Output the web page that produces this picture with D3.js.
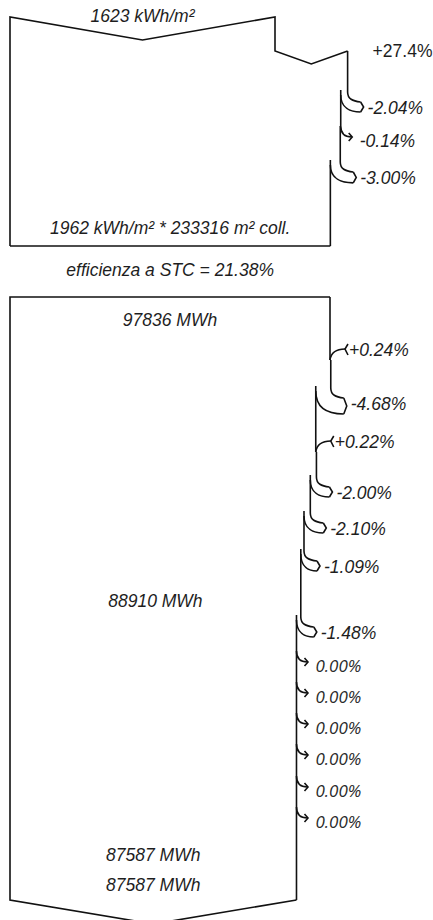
<!DOCTYPE html>
<html><head><meta charset="utf-8">
<script src="https://cdn.jsdelivr.net/npm/d3@7"></script>
<style>
html,body{margin:0;padding:0;background:#fff;}
svg{display:block;}
text{font-family:"Liberation Sans",Arial,sans-serif;font-size:17.5px;fill:#1e1e1e;}
.it{font-style:italic;}
.zero{font-family:"Open Sans","Liberation Sans",sans-serif;font-style:italic;fill:#2a2a2a;font-size:17px;}
</style></head><body>
<svg id="chart" width="433" height="920"></svg>
<script>
// Irradiation stage (kWh/m²)
const irrStart = 1623;
const irrSteps = [27.4, -2.04, -0.14, -3.00];
const irrEffective = 1962;
const collectorArea = 233316;
const stcEfficiency = 21.38;

// Energy stage (MWh)
const energyStart = 97836;
const energySteps = [0.24, -4.68, 0.22, -2.00, -2.10, -1.09, -1.48, 0.00, 0.00, 0.00, 0.00, 0.00, 0.00];
const energyMpp = 88910;
const energyInverter = 87587;
const energyGrid = 87587;

// Vertical layout of the step rows (label centre lines)
const irrRowY = [51, 108, 141, 178];
const energyRowY = [350, 404, 442, 493, 529, 567, 633, 666, 697, 728, 759, 791, 822];

const svg = d3.select("#chart");
const ink = "#111";
const sw = 1.6;

function cumulative(start, steps) {
  const out = [start];
  steps.forEach(p => out.push(out[out.length - 1] * (1 + p / 100)));
  return out;
}
const irrVals = cumulative(irrStart, irrSteps);
const enVals = cumulative(energyStart, energySteps);

// Band width is proportional to the flowing quantity
const xIrr = d3.scaleLinear().domain([0, irrStart]).range([10, 275]);
const xEn = d3.scaleLinear().domain([0, energyStart]).range([10, 330]);

const g = svg.append("g").attr("fill", "none").attr("stroke", ink)
  .attr("stroke-width", sw).attr("stroke-linejoin", "miter");

function fmtPct(p) {
  const s = Math.abs(p).toFixed(p === 27.4 ? 1 : 2) + "%";
  if (p > 0) return "+" + s;
  if (p < 0) return "-" + s;
  return s;
}

function label(x, y, txt, cls, anchor) {
  svg.append("text").attr("x", x).attr("y", y).attr("dy", "0.36em")
    .attr("text-anchor", anchor || "start").attr("class", cls || "it").text(txt);
}

// Draws the right edge of a block with its loss / gain arrows
function drawSteps(vals, steps, rows, x, from, yTop, yBottom) {
  let segX = x(vals[from]);
  let segStart = yTop;
  for (let i = from; i < steps.length; i++) {
    const p = steps[i];
    const xo = x(vals[i]), xn = x(vals[i + 1]), ly = rows[i];
    const w = xo - xn;
    if (p > 0) {
      const yj = ly + 10;
      g.append("path").attr("d", `M${segX},${segStart}V${yj}`);
      g.append("path").attr("d",
        `M${xo},${yj}C${xo + 1},${yj - 7} ${xo + 6},${ly - 1} ${xo + 15},${ly - 1}`);
      g.append("path").attr("d",
        `M${xo + 18},${ly - 6}L${xo + 15},${ly - 1}L${xo + 18},${ly + 5}`);
      segX = xn; segStart = yj;
      label(xo + 19, ly, fmtPct(p));
    } else if (w < 1.5) {
      const y0 = ly - 15;
      g.append("path").attr("d", `M${segX},${segStart}V${y0}`);
      g.append("path").attr("d",
        `M${xo},${y0}C${xo},${y0 + 7} ${xo + 4},${y0 + 11} ${xo + 11},${y0 + 11}`);
      g.append("path").attr("d",
        `M${xo + 8},${y0 + 7}L${xo + 11.5},${y0 + 11}L${xo + 8},${y0 + 15}`);
      segX = xn; segStart = y0;
      label(xo + 19, ly, fmtPct(p), p === 0 ? "zero" : "it");
    } else {
      const y0 = ly - 16, h = 10;
      const bandEnd = Math.max(w, 9) + 1;
      const xe = xo + 13, ye1 = y0 + h, ye2 = ye1 + bandEnd;
      g.append("path").attr("d", `M${segX},${segStart}V${y0}`);
      g.append("path").attr("d",
        `M${xo},${y0}C${xo},${y0 + h * 0.7} ${xe - 8},${ye1 - 1} ${xe},${ye1}`);
      g.append("path").attr("d",
        `M${xn},${y0 + 3}C${xn},${ye2 - 4} ${xe - (xe - xn) * 0.5},${ye2} ${xe},${ye2}`);
      g.append("path").attr("d",
        `M${xe},${ye1}L${xe + 3},${(ye1 + ye2) / 2}L${xe},${ye2}`);
      segX = xn; segStart = y0 - 2;
      label(xo + 20, ly, fmtPct(p));
    }
  }
  g.append("path").attr("d", `M${segX},${segStart}V${yBottom}`);
}

// ---- Irradiation block ----
const topY = 17, topDip = 23, topBottom = 246;
const x0 = xIrr(0), x1 = xIrr(irrVals[0]), x2 = xIrr(irrVals[1]);
const gainY = irrRowY[0];
g.append("path").attr("d",
  `M${x0},${topBottom}V${topY}L${(x0 + x1) / 2},${topY + topDip}L${x1},${topY}` +
  `V${gainY}L${(x1 + x2) / 2},${gainY + 13}L${x2},${gainY}`);
label(x2 + 25, gainY, fmtPct(irrSteps[0]), "up");
drawSteps(irrVals, irrSteps, irrRowY, xIrr, 1, gainY, topBottom);
const xIrrEnd = xIrr(irrVals[irrVals.length - 1]);
g.append("path").attr("d", `M${x0},${topBottom}H${xIrrEnd}`);

label((x0 + x1) / 2, 16, irrStart + " kWh/m²", "it", "middle");
label((x0 + xIrrEnd) / 2, 228, irrEffective + " kWh/m² * " + collectorArea + " m² coll.", "it", "middle");
label((x0 + xIrrEnd) / 2, 270, "efficienza a STC = " + stcEfficiency.toFixed(2) + "%", "it", "middle");

// ---- Energy block ----
const enTop = 297, enBottom = 900;
const e0 = xEn(0), e1 = xEn(energyStart);
const eEnd = xEn(energyGrid);
const bottomDip = 24;
g.append("path").attr("d", `M${e1},${enTop}H${e0}V${enBottom}L${(e0 + eEnd) / 2},${enBottom + bottomDip}L${eEnd},${enBottom}`);
drawSteps(enVals, energySteps, energyRowY, xEn, 0, enTop, enBottom);

label((e0 + e1) / 2, 320, energyStart + " MWh", "it", "middle");
label((e0 + xEn(energyMpp)) / 2, 601, energyMpp + " MWh", "it", "middle");
label((e0 + xEn(energyInverter)) / 2, 855, energyInverter + " MWh", "it", "middle");
label((e0 + eEnd) / 2, 885, energyGrid + " MWh", "it", "middle");
</script>
</body></html>
